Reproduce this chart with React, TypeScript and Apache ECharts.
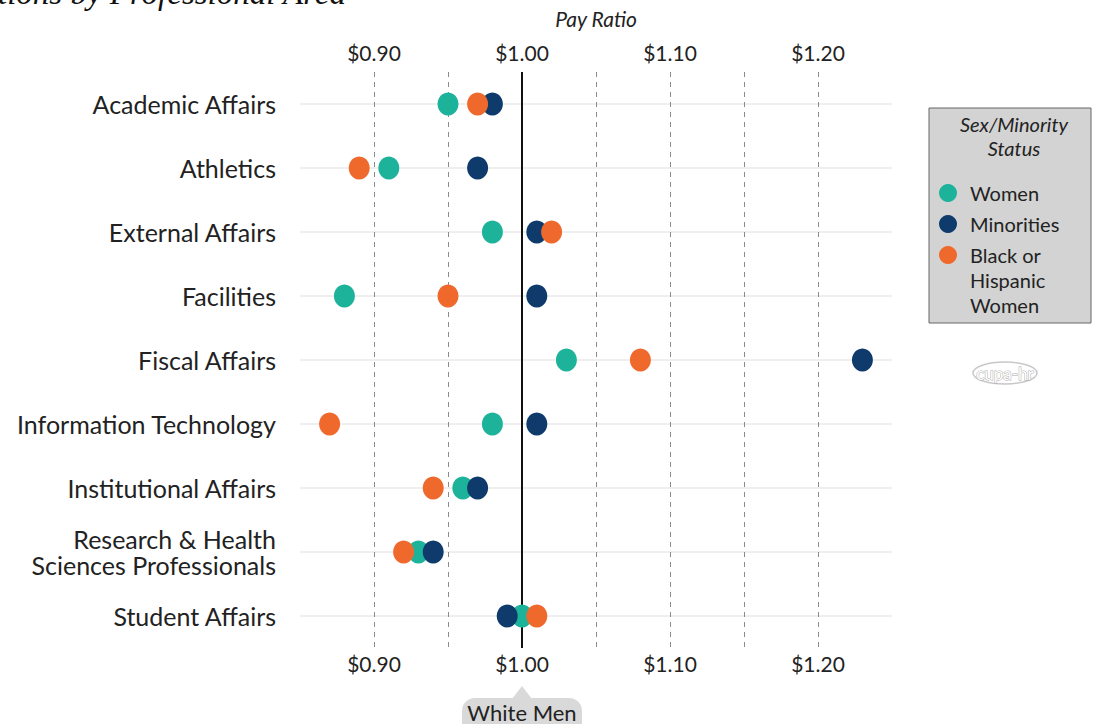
import React, { useEffect, useRef } from "react";
import * as echarts from "echarts";

const categories = [
  "Academic Affairs",
  "Athletics",
  "External Affairs",
  "Facilities",
  "Fiscal Affairs",
  "Information Technology",
  "Institutional Affairs",
  "Research & Health Sciences Professionals",
  "Student Affairs",
];
const women = [0.95, 0.91, 0.98, 0.88, 1.03, 0.98, 0.96, 0.93, 1.0];
const minorities = [0.98, 0.97, 1.01, 1.01, 1.23, 1.01, 0.97, 0.94, 0.99];
const bhWomen = [0.97, 0.89, 1.02, 0.95, 1.08, 0.87, 0.94, 0.92, 1.01];

const tickLabels = [0.9, 1.0, 1.1, 1.2];
const dashedLines = [0.9, 0.95, 1.05, 1.1, 1.15, 1.2];
const referenceValue = 1.0;

const seriesNames = ["Women", "Minorities", "Black or Hispanic Women"];
const legendLines = [["Women"], ["Minorities"], ["Black or", "Hispanic", "Women"]];
const colors = ["#1DB39B", "#0E3B6C", "#F0692C"];

const FONT = "Lato, 'Noto Sans', sans-serif";

export default function App() {
  const ref = useRef<HTMLDivElement>(null);
  useEffect(() => {
    if (!ref.current) return;
    const chart = echarts.init(ref.current, undefined, { renderer: "svg" });
    const fmt = (v: number) =>
      tickLabels.some((t) => Math.abs(t - v) < 1e-6) ? "$" + v.toFixed(2) : "";
    const catLabel = (s: string) =>
      s === "Research & Health Sciences Professionals"
        ? "Research & Health\nSciences Professionals"
        : s;
    const axisCommon = {
      type: "value",
      min: 0.85,
      max: 1.25,
      interval: 0.05,
      axisLine: { show: false },
      axisTick: { show: false },
      splitLine: { show: false },
    };
    const pts = (arr: number[]) => arr.map((v, i) => [v, categories[i]]);
    const seriesData = [women, minorities, bhWomen];

    const legendX = 929;
    const legendY = 108;
    const legendEls: any[] = [
      {
        type: "rect",
        shape: { x: legendX, y: legendY, width: 162, height: 215 },
        style: { fill: "#d3d3d3", stroke: "#666", lineWidth: 1 },
      },
      {
        type: "text",
        x: 1014,
        y: 124,
        style: {
          text: "Sex/Minority",
          font: `italic 20px ${FONT}`,
          fill: "#222",
          align: "center",
          verticalAlign: "middle",
        },
      },
      {
        type: "text",
        x: 1014,
        y: 148,
        style: {
          text: "Status",
          font: `italic 20px ${FONT}`,
          fill: "#222",
          align: "center",
          verticalAlign: "middle",
        },
      },
    ];
    const itemYs = [193, 224, 255];
    legendLines.forEach((lines, i) => {
      legendEls.push({
        type: "circle",
        shape: { cx: 948, cy: itemYs[i], r: 9 },
        style: { fill: colors[i] },
      });
      lines.forEach((ln, j) => {
        legendEls.push({
          type: "text",
          x: 970,
          y: itemYs[i] + j * 25,
          style: {
            text: ln,
            font: `20px ${FONT}`,
            fill: "#222",
            align: "left",
            verticalAlign: "middle",
          },
        });
      });
    });

    chart.setOption({
      animation: false,
      textStyle: { fontFamily: FONT },
      grid: { left: 300, right: 202, top: 72, bottom: 76, containLabel: false },
      xAxis: [
        {
          ...axisCommon,
          position: "top",
          name: "Pay Ratio",
          nameLocation: "middle",
          nameGap: 43,
          nameTextStyle: { fontStyle: "italic", fontSize: 21, color: "#222", fontFamily: FONT },
          axisLabel: { formatter: fmt, fontSize: 21, color: "#222", margin: 9 },
        },
        {
          ...axisCommon,
          position: "bottom",
          axisLabel: { formatter: fmt, fontSize: 21, color: "#222", margin: 5 },
        },
      ],
      yAxis: {
        type: "category",
        data: categories,
        inverse: true,
        axisLine: { show: false },
        axisTick: { show: false },
        splitLine: { show: false },
        axisLabel: {
          formatter: catLabel,
          fontSize: 25,
          color: "#222",
          margin: 24,
          lineHeight: 26,
          align: "right",
        },
      },
      series: [
        {
          type: "scatter",
          name: "gridlines",
          xAxisIndex: 0,
          data: [],
          silent: true,
          z: 1,
          markLine: {
            silent: true,
            z: 1,
            symbol: ["none", "none"],
            label: { show: false },
            data: [
              ...categories.map((c) => ({
                yAxis: c,
                lineStyle: { color: "#efefef", width: 2, type: "solid" },
              })),
              ...dashedLines.map((v) => ({
                xAxis: v,
                lineStyle: { color: "#8a8a8a", width: 1, type: [5, 5] },
              })),
            ],
          },
        },
        {
          type: "scatter",
          name: "reference",
          xAxisIndex: 0,
          data: [],
          silent: true,
          z: 2,
          markLine: {
            silent: true,
            z: 2,
            symbol: ["none", "none"],
            label: { show: false },
            data: [{ xAxis: referenceValue, lineStyle: { color: "#111", width: 2, type: "solid" } }],
          },
        },
        ...seriesNames.map((n, i) => ({
          type: "scatter",
          name: n,
          xAxisIndex: 0,
          data: pts(seriesData[i]),
          symbol: "circle",
          symbolSize: [21, 23],
          itemStyle: { color: colors[i], opacity: 1 },
          z: 5 + i,
        })),
      ],
      graphic: [
        {
          type: "text",
          x: -2,
          y: 9,
          style: {
            text: "tions by Professional Area",
            font: `italic 33px 'Liberation Serif', 'DejaVu Serif', serif`,
            fill: "#111",
            align: "left",
            verticalAlign: "bottom",
          },
        },
        ...legendEls,
        {
          type: "ellipse",
          shape: { cx: 1005, cy: 373, rx: 32, ry: 11 },
          style: { fill: "none", stroke: "#c8c8c8", lineWidth: 1.5 },
        },
        {
          type: "text",
          x: 1005,
          y: 373,
          style: {
            text: "cupa-hr",
            font: `17px ${FONT}`,
            fill: "#fff",
            stroke: "#aaa",
            lineWidth: 1,
            align: "center",
            verticalAlign: "middle",
          },
        },
        {
          type: "polygon",
          shape: { points: [[509, 703], [522, 686], [535, 703]] },
          style: { fill: "#d9d9d9" },
        },
        {
          type: "rect",
          shape: { x: 462, y: 698, width: 120, height: 40, r: 13 },
          style: { fill: "#d9d9d9" },
        },
        {
          type: "text",
          x: 522,
          y: 712,
          style: {
            text: "White Men",
            font: `22px ${FONT}`,
            fill: "#222",
            align: "center",
            verticalAlign: "middle",
          },
        },
      ],
    });
    return () => chart.dispose();
  }, []);
  return (
    <div
      ref={ref}
      style={{ position: "fixed", left: 0, top: 0, width: 1094, height: 724, background: "#fff" }}
    />
  );
}
